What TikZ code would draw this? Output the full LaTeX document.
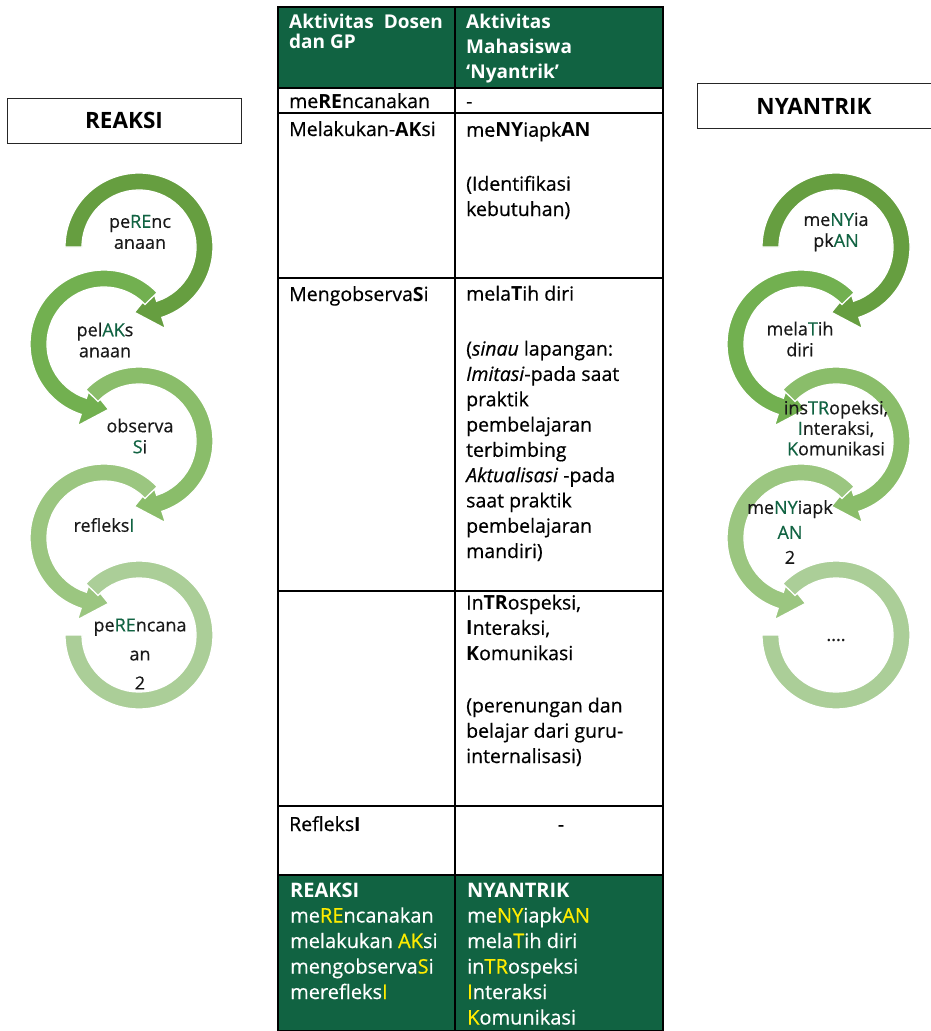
\documentclass[tikz,border=0pt]{standalone}
\usepackage{fontspec}
\setmainfont{Open Sans}[UprightFeatures={FakeBold=0.5}, ItalicFeatures={FakeBold=0.5}]
\usetikzlibrary{positioning}
\newcommand{\hg}[1]{\textcolor{tblgreen}{#1}}
\newcommand{\hy}[1]{\textcolor{hiyellow}{#1}}

\begin{document}
\begin{tikzpicture}[x=1pt,y=1pt]
	\definecolor{tblgreen}{RGB}{17,99,66}
	\definecolor{hiyellow}{RGB}{255,236,0}
	\definecolor{ringA}{RGB}{102,158,64}
	\definecolor{ringB}{RGB}{114,176,80}
	\definecolor{ringC}{RGB}{138,189,106}
	\definecolor{ringD}{RGB}{155,198,128}
	\definecolor{ringE}{RGB}{171,206,152}
	\tikzset{
		% teks sel: diletakkan pada garis dasar baris terakhir
		cell/.style={
			anchor=base west, inner sep=0pt, align=left,
			font=\fontsize{19.5}{25.3}\selectfont
		},
		headcell/.style={
			cell, text=white, font=\fontsize{19}{20}\selectfont\bfseries
		},
		footcell/.style={
			cell, text=white, font=\fontsize{20}{25.5}\selectfont
		},
		lblbox/.style={
			draw=black!85, line width=0.8pt, inner sep=0pt,
			minimum width=234pt, minimum height=45pt,
			font=\fontsize{22.5}{26}\selectfont\bfseries
		},
		ctext/.style={
			inner sep=0pt, align=center, text=black!90,
			font=\fontsize{18}{21}\selectfont
		},
		ring/.style={draw=white, line width=1.3pt},
		grid/.style={draw=black, line width=1.4pt}
	}
	\useasboundingbox (0,-1031) rectangle (930,0);
	
	% ======= Kotak judul =======
	\node[lblbox] (bxL) at (124,-120.5) {REAKSI};
	\node[lblbox] (bxR) at (814,-106) {NYANTRIK};
	
	% ======= Siklus REAKSI =======
	\coordinate (L1) at (139,-247);
	\coordinate (L2) at (104,-344);
	\coordinate (L3) at (139,-441);
	\coordinate (L4) at (104,-538);
	\coordinate (L5) at (139,-635);
	
	\filldraw[ring, fill=ringA, shift={(L1)}] (180:74) arc[start angle=180, end angle=-72, radius=74]
		-- (-72:86) -- (-94:65.5) -- (-72:45) -- (-72:57) arc[start angle=-72, end angle=180, radius=57] -- cycle;
	\filldraw[ring, fill=ringB, shift={(L2)}] (44:74) arc[start angle=44, end angle=252, radius=74]
		-- (252:86) -- (274:65.5) -- (252:45) -- (252:57) arc[start angle=252, end angle=44, radius=57] -- cycle;
	\filldraw[ring, fill=ringC, shift={(L3)}] (136:74) arc[start angle=136, end angle=-72, radius=74]
		-- (-72:86) -- (-94:65.5) -- (-72:45) -- (-72:57) arc[start angle=-72, end angle=136, radius=57] -- cycle;
	\filldraw[ring, fill=ringD, shift={(L4)}] (44:74) arc[start angle=44, end angle=252, radius=74]
		-- (252:86) -- (274:65.5) -- (252:45) -- (252:57) arc[start angle=252, end angle=44, radius=57] -- cycle;
	\filldraw[ring, fill=ringE, shift={(L5)}] (136:74) arc[start angle=136, end angle=-180, radius=74]
		-- (-180:57) arc[start angle=-180, end angle=136, radius=57] -- cycle;
	
	\node[ctext] (lt1) at (140,-232) {pe\hg{RE}nc\\anaan};
	\node[ctext] (lt2) at (105,-340) {pel\hg{AK}s\\anaan};
	\node[ctext] (lt3) at (140,-436) {observa\\\hg{S}i};
	\node[ctext] (lt4) at (104,-525) {refleks\hg{I}};
	\node[ctext, font=\fontsize{18}{29}\selectfont] (lt5) at (140,-654) {pe\hg{RE}ncana\\an\\2};
	
	% ======= Siklus NYANTRIK =======
	\coordinate (R1) at (836,-247);
	\coordinate (R2) at (801,-344);
	\coordinate (R3) at (836,-441);
	\coordinate (R4) at (801,-538);
	\coordinate (R5) at (836,-635);
	
	\filldraw[ring, fill=ringA, shift={(R1)}] (180:74) arc[start angle=180, end angle=-72, radius=74]
		-- (-72:86) -- (-94:65.5) -- (-72:45) -- (-72:57) arc[start angle=-72, end angle=180, radius=57] -- cycle;
	\filldraw[ring, fill=ringB, shift={(R2)}] (44:74) arc[start angle=44, end angle=252, radius=74]
		-- (252:86) -- (274:65.5) -- (252:45) -- (252:57) arc[start angle=252, end angle=44, radius=57] -- cycle;
	\filldraw[ring, fill=ringC, shift={(R3)}] (136:74) arc[start angle=136, end angle=-72, radius=74]
		-- (-72:86) -- (-94:65.5) -- (-72:45) -- (-72:57) arc[start angle=-72, end angle=136, radius=57] -- cycle;
	\filldraw[ring, fill=ringD, shift={(R4)}] (44:74) arc[start angle=44, end angle=252, radius=74]
		-- (252:86) -- (274:65.5) -- (252:45) -- (252:57) arc[start angle=252, end angle=44, radius=57] -- cycle;
	\filldraw[ring, fill=ringE, shift={(R5)}] (136:74) arc[start angle=136, end angle=-180, radius=74]
		-- (-180:57) arc[start angle=-180, end angle=136, radius=57] -- cycle;
	
	\node[ctext] (rt1) at (836,-232) {me\hg{NY}ia\\pk\hg{AN}};
	\node[ctext] (rt2) at (800,-339) {mela\hg{T}ih\\diri};
	\node[ctext, font=\fontsize{18}{20.5}\selectfont] (rt3) at (836,-428) {ins\hg{TR}opeksi,\\\hg{I}nteraksi,\\\hg{K}omunikasi};
	\node[ctext, font=\fontsize{18}{25}\selectfont] (rt4) at (790,-532) {me\hg{NY}iapk\\\hg{AN}\\2};
	\node[ctext] (rt5) at (836,-640) {....};
	
	% ======= Tabel aktivitas =======
	\fill[tblgreen] (278,-7) rectangle (663,-88);
	\fill[tblgreen] (278,-875) rectangle (663,-1031);
	\draw[grid] (278,-7) rectangle (663,-1031);
	\draw[grid] (455,-7) -- (455,-1031);
	\draw[grid] (278,-88) -- (663,-88);
	\draw[grid] (278,-113) -- (663,-113);
	\draw[grid] (278,-278) -- (663,-278);
	\draw[grid] (278,-591) -- (663,-591);
	\draw[grid] (278,-806) -- (663,-806);
	\draw[grid] (278,-875) -- (663,-875);
	
	\node[headcell] (hd1) at (289,-48) {Aktivitas\hspace{5pt} Dosen\\dan GP};
	\node[headcell, font=\fontsize{19}{25}\selectfont\bfseries] (hd2) at (466,-78) {Aktivitas\\Mahasiswa\\`Nyantrik'};
	
	\node[cell] (c1a) at (289,-108) {me\textbf{RE}ncanakan};
	\node[cell] (c1b) at (466,-108) {-};
	\node[cell] (c2a) at (289,-136) {Melakukan-\textbf{AK}si};
	\node[cell] (c2b) at (466,-216) {me\textbf{NY}iapk\textbf{AN}\\[28.7pt](Identifikasi\\kebutuhan)};
	\node[cell] (c3a) at (289,-301) {Mengobserva\textbf{S}i};
	\node[cell] (c3b) at (466,-558) {mela\textbf{T}ih diri\\[29.7pt](\textit{sinau} lapangan:\\\textit{Imitasi}-pada saat\\praktik\\pembelajaran\\terbimbing\\\textit{Aktualisasi} -pada\\saat praktik\\pembelajaran\\mandiri)};
	\node[cell] (c4b) at (466,-763) {In\textbf{TR}ospeksi,\\\textbf{I}nteraksi,\\\textbf{K}omunikasi\\[27pt](perenungan dan\\belajar dari guru-\\internalisasi)};
	\node[cell] (c5a) at (289,-831) {Refleks\textbf{I}};
	\node[cell, anchor=base] (c5b) at (561,-831) {-};
	
	\node[footcell] (ft1) at (290,-999) {\textbf{REAKSI}\\me\hy{RE}ncanakan\\melakukan \hy{AK}si\\mengobserva\hy{S}i\\merefleks\hy{I}};
	\node[footcell] (ft2) at (467,-1024.5) {\textbf{NYANTRIK}\\me\hy{NY}iapk\hy{AN}\\mela\hy{T}ih diri\\in\hy{TR}ospeksi\\\hy{I}nteraksi\\\hy{K}omunikasi};
\end{tikzpicture}
\end{document}
